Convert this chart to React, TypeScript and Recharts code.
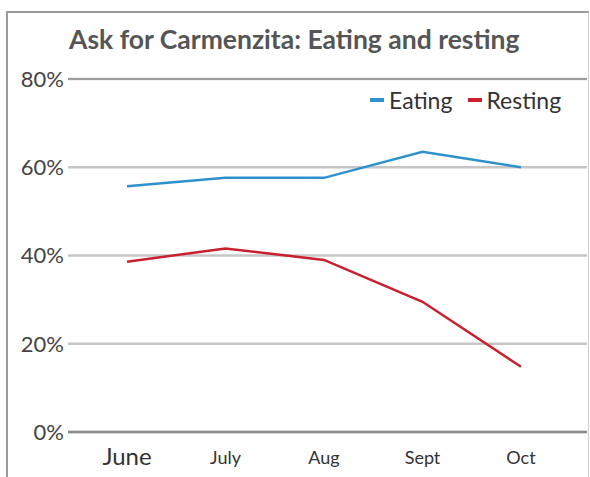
import React from 'react';
import { LineChart, Line, XAxis, YAxis, CartesianGrid, ReferenceLine } from 'recharts';

const months = ['June', 'July', 'Aug', 'Sept', 'Oct'];
const eating = [55.7, 57.6, 57.6, 63.5, 60];
const resting = [38.6, 41.6, 39, 29.5, 14.8];
const yTicks = [0, 20, 40, 60, 80];

const data = months.map((m, i) => ({ month: m, Eating: eating[i], Resting: resting[i] }));

const FONT = 'Lato, "Open Sans", sans-serif';
const BLUE = '#2e91cf';
const RED = '#c8202e';

const XTick = (props: any) => {
  const { x, y, payload } = props;
  const big = payload.value === 'June';
  return (
    <text x={x} y={y} dy={big ? 25 : 24} textAnchor="middle" fill="#333" fontFamily={FONT} fontSize={big ? 24 : 18}>
      {payload.value}
    </text>
  );
};

export default function App() {
  return (
    <div style={{ position: 'absolute', left: 0, top: 0, width: 590, height: 477, background: '#fff', overflow: 'hidden' }}>
      <div style={{ position: 'absolute', left: 6, top: 11, width: 580, height: 470, borderLeft: '2.5px solid #9a9a9a', borderTop: '2.5px solid #9a9a9a', borderRight: '1.5px solid #d0d0d0' }} />
      <div style={{ position: 'absolute', left: 69, top: 23, fontFamily: FONT, fontWeight: 700, fontSize: 26.5, color: '#555', whiteSpace: 'nowrap' }}>
        Ask for Carmenzita: Eating and resting
      </div>
      <div style={{ position: 'absolute', left: 370, top: 86, display: 'flex', alignItems: 'center', fontFamily: FONT, fontSize: 23, color: '#333', whiteSpace: 'nowrap' }}>
        <span style={{ display: 'inline-block', width: 14, height: 4, background: BLUE, marginRight: 5 }} />
        <span>Eating</span>
        <span style={{ display: 'inline-block', width: 14, height: 4, background: RED, marginLeft: 16, marginRight: 4 }} />
        <span>Resting</span>
      </div>
      <div style={{ position: 'absolute', left: 0, top: 0 }}>
        <LineChart width={590} height={477} data={data} margin={{ top: 79, right: 3, bottom: 15, left: 0 }}>
          <CartesianGrid vertical={false} stroke="#c6c6c6" strokeWidth={2.5} />
          <ReferenceLine y={80} stroke="#8c8c8c" strokeWidth={1.5} />
          <XAxis
            dataKey="month"
            scale="point"
            height={30}
            padding={{ left: 59, right: 66 }}
            axisLine={{ stroke: '#8c8c8c', strokeWidth: 2.5 }}
            tickLine={false}
            tick={<XTick />}
            interval={0}
          />
          <YAxis
            domain={[0, 80]}
            ticks={yTicks}
            width={68}
            axisLine={false}
            tickLine={false}
            tickSize={0}
            tickMargin={4}
            tickFormatter={(v: number) => `${v}%`}
            tick={{ fill: '#444', fontFamily: FONT, fontSize: 22 }}
          />
          <Line dataKey="Eating" stroke={BLUE} strokeWidth={2.5} dot={false} isAnimationActive={false} />
          <Line dataKey="Resting" stroke={RED} strokeWidth={2.5} dot={false} isAnimationActive={false} />
        </LineChart>
      </div>
    </div>
  );
}
